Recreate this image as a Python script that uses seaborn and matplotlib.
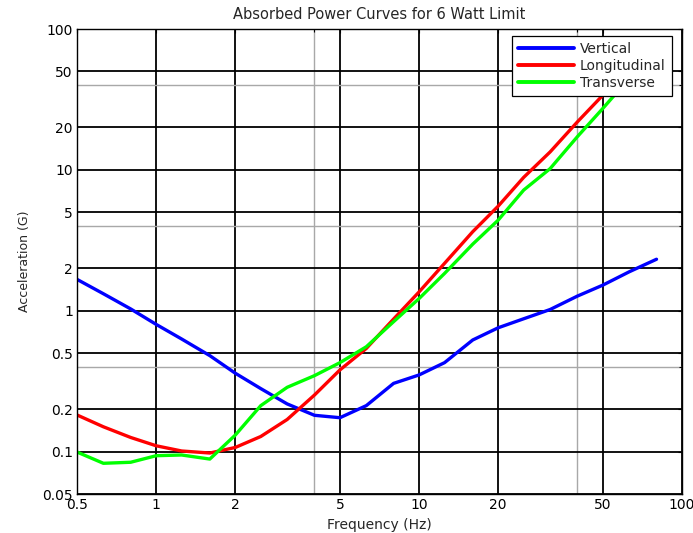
import numpy as np
import pandas as pd
import matplotlib
matplotlib.use("Agg")
import matplotlib.pyplot as plt
from matplotlib.ticker import FixedLocator, FixedFormatter, NullFormatter
import seaborn as sns

freq = [0.5, 0.63, 0.8, 1.0, 1.25, 1.6, 2.0, 2.5, 3.15, 4.0, 5.0, 6.3, 8.0,
        10.0, 12.5, 16.0, 20.0, 25.0, 31.5, 40.0, 50.0, 63.0, 80.0]
vertical = [1.67, 1.32, 1.03, 0.80, 0.63, 0.48, 0.36, 0.28, 0.218, 0.181, 0.174,
            0.212, 0.305, 0.35, 0.428, 0.62, 0.757, 0.877, 1.02, 1.27, 1.52, 1.89, 2.32]
longitudinal = [0.182, 0.150, 0.126, 0.110, 0.101, 0.0977, 0.107, 0.128, 0.169,
                0.252, 0.38, 0.54, 0.873, 1.36, 2.17, 3.64, 5.53, 8.85, 13.4,
                21.9, 33.9, 53.8, 86.7]
transverse = [0.0993, 0.0826, 0.084, 0.0935, 0.0946, 0.0885, 0.131, 0.212, 0.286,
              0.346, 0.428, 0.555, 0.836, 1.22, 1.84, 2.97, 4.4, 7.19, 10.2,
              17.2, 27.3, 44.7, 72.0]
series_names = ["Vertical", "Longitudinal", "Transverse"]
x_ticks = [0.5, 1, 2, 5, 10, 20, 50, 100]
x_tick_labels = ["0.5", "1", "2", "5", "10", "20", "50", "100"]
y_ticks = [0.05, 0.1, 0.2, 0.5, 1, 2, 5, 10, 20, 50, 100]
y_tick_labels = ["0.05", "0.1", "0.2", "0.5", "1", "2", "5", "10", "20", "50", "100"]
x_gray = [4, 40]
y_gray = [0.4, 4, 40]

df = pd.DataFrame({
    "Frequency": freq * 3,
    "Acceleration": vertical + longitudinal + transverse,
    "Series": [series_names[0]] * len(freq) + [series_names[1]] * len(freq)
              + [series_names[2]] * len(freq),
})

sns.set_style("white")
plt.rcParams["font.family"] = ["DejaVu Sans"]

fig = plt.figure(figsize=(6.93, 5.33), dpi=100)
ax = fig.add_axes([77 / 693, 1 - 494 / 533, (682 - 77) / 693, (494 - 29) / 533])

ax.set_xscale("log")
ax.set_yscale("log")
ax.set_xlim(0.5, 100)
ax.set_ylim(0.05, 100)

ax.xaxis.set_major_locator(FixedLocator(x_ticks))
ax.xaxis.set_major_formatter(FixedFormatter(x_tick_labels))
ax.yaxis.set_major_locator(FixedLocator(y_ticks))
ax.yaxis.set_major_formatter(FixedFormatter(y_tick_labels))
ax.xaxis.set_minor_locator(FixedLocator(x_gray))
ax.yaxis.set_minor_locator(FixedLocator(y_gray))
ax.xaxis.set_minor_formatter(NullFormatter())
ax.yaxis.set_minor_formatter(NullFormatter())
ax.grid(True, which="major", color="black", linewidth=1.3, linestyle="-")
ax.grid(True, which="minor", color="#a8a8a8", linewidth=1.0, linestyle="-")
ax.set_axisbelow(True)

sns.lineplot(data=df, x="Frequency", y="Acceleration", hue="Series",
             palette=["#0000ff", "#ff0000", "#00ff00"], linewidth=2.4,
             ax=ax, sort=False, estimator=None)

ax.tick_params(which="both", direction="in", top=True, right=True,
               length=3, width=0.8, labelsize=10, pad=3, colors="black")
ax.tick_params(which="minor", length=2)
for s in ax.spines.values():
    s.set_visible(True)
    s.set_color("black")
    s.set_linewidth(1.0)

ax.set_xlabel("Frequency (Hz)", fontsize=10, labelpad=4)
ax.set_ylabel("Acceleration (G)", fontsize=9, labelpad=8)
ax.set_title("Absorbed Power Curves for 6 Watt Limit", fontsize=10.5, pad=7)

leg = ax.legend(loc="upper right", bbox_to_anchor=((672 - 77) / 605, (494 - 36) / 465),
                borderaxespad=0, fontsize=10, frameon=True, fancybox=False,
                edgecolor="black", framealpha=1,
                handlelength=4.0, handletextpad=0.45, labelspacing=0.2,
                borderpad=0.45)
leg.get_frame().set_linewidth(0.9)
for h in leg.get_lines():
    h.set_linewidth(2.8)

fig.savefig("out.png", dpi=100)
